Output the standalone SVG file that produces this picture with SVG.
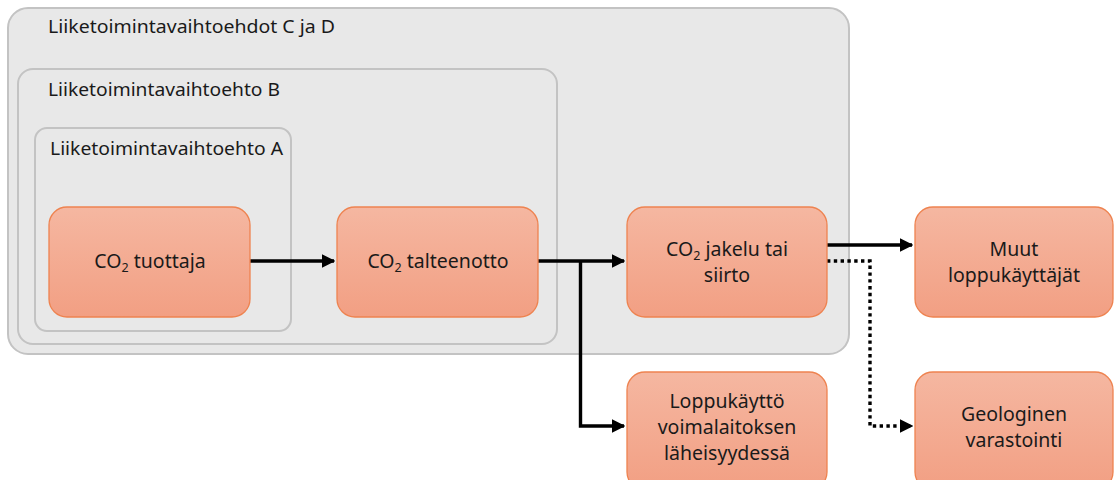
<svg xmlns="http://www.w3.org/2000/svg" width="1114" height="480" viewBox="0 0 1114 480">
<defs>
<linearGradient id="g" x1="0" y1="0" x2="0" y2="1">
<stop offset="0" stop-color="#F5B7A1"/>
<stop offset="1" stop-color="#F29F83"/>
</linearGradient>
<marker id="ah" viewBox="0 0 10 10" refX="9" refY="5" markerWidth="4" markerHeight="4" orient="auto" markerUnits="strokeWidth">
<path d="M0,0 L10,5 L0,10 z" fill="#000"/>
</marker>
</defs>
<style>
.cont{fill:#E8E8E8;stroke:#C3C3C3;stroke-width:2}
.clab{font-family:"Noto Sans","Liberation Sans",Arial,sans-serif;font-size:17.5px;fill:#1a1a1a}
.node{fill:url(#g);stroke:#EE8350;stroke-width:1.3}
.nt{font-family:"Noto Sans","Liberation Sans",Arial,sans-serif;font-size:19.5px;fill:#1a1a1a;text-anchor:middle}
.sub{font-size:12.5px}
.c{fill:none;stroke:#000;stroke-width:3.4}
.d{stroke-dasharray:3.4 3.4}
</style>
<g id="container-cd">
<rect class="cont" x="8" y="8" width="841" height="346" rx="20"/>
<text class="clab" x="48" y="33" textLength="287" lengthAdjust="spacingAndGlyphs">Liiketoimintavaihtoehdot C ja D</text>
</g>
<g id="container-b">
<rect class="cont" x="18" y="69" width="539" height="275" rx="15"/>
<text class="clab" x="48" y="96" textLength="232" lengthAdjust="spacingAndGlyphs">Liiketoimintavaihtoehto B</text>
</g>
<g id="container-a">
<rect class="cont" x="35" y="128" width="256" height="203" rx="12"/>
<text class="clab" x="50" y="155" textLength="233" lengthAdjust="spacingAndGlyphs">Liiketoimintavaihtoehto A</text>
</g>
<g id="connectors">
<path class="c" d="M250,261 H334" marker-end="url(#ah)"/>
<path class="c" d="M538,261 H624" marker-end="url(#ah)"/>
<path class="c" d="M580.5,261 V426 H624" marker-end="url(#ah)"/>
<path class="c" d="M827,245 H912" marker-end="url(#ah)"/>
<path class="c d" d="M827,261 H870 V426 H912" marker-end="url(#ah)"/>
</g>
<g id="node-tuottaja">
<rect class="node" x="49" y="207" width="201" height="110" rx="18"/>
<text class="nt" x="150" y="268">CO<tspan class="sub" dy="4">2</tspan><tspan dy="-4"> tuottaja</tspan></text>
</g>
<g id="node-talteenotto">
<rect class="node" x="337" y="207" width="201" height="110" rx="18"/>
<text class="nt" x="438" y="268">CO<tspan class="sub" dy="4">2</tspan><tspan dy="-4"> talteenotto</tspan></text>
</g>
<g id="node-jakelu">
<rect class="node" x="627" y="207" width="200" height="110" rx="18"/>
<text class="nt" x="727" y="256">CO<tspan class="sub" dy="4">2</tspan><tspan dy="-4"> jakelu tai</tspan></text>
<text class="nt" x="727" y="282">siirto</text>
</g>
<g id="node-muut">
<rect class="node" x="915" y="207" width="198" height="110" rx="18"/>
<text class="nt" x="1014" y="256">Muut</text>
<text class="nt" x="1014" y="282">loppukäyttäjät</text>
</g>
<g id="node-loppukaytto">
<rect class="node" x="627" y="372" width="200" height="118" rx="18"/>
<text class="nt" x="727" y="408">Loppukäyttö</text>
<text class="nt" x="727" y="434">voimalaitoksen</text>
<text class="nt" x="727" y="460">läheisyydessä</text>
</g>
<g id="node-geologinen">
<rect class="node" x="915" y="372" width="198" height="118" rx="18"/>
<text class="nt" x="1014" y="421">Geologinen</text>
<text class="nt" x="1014" y="447">varastointi</text>
</g>
</svg>
